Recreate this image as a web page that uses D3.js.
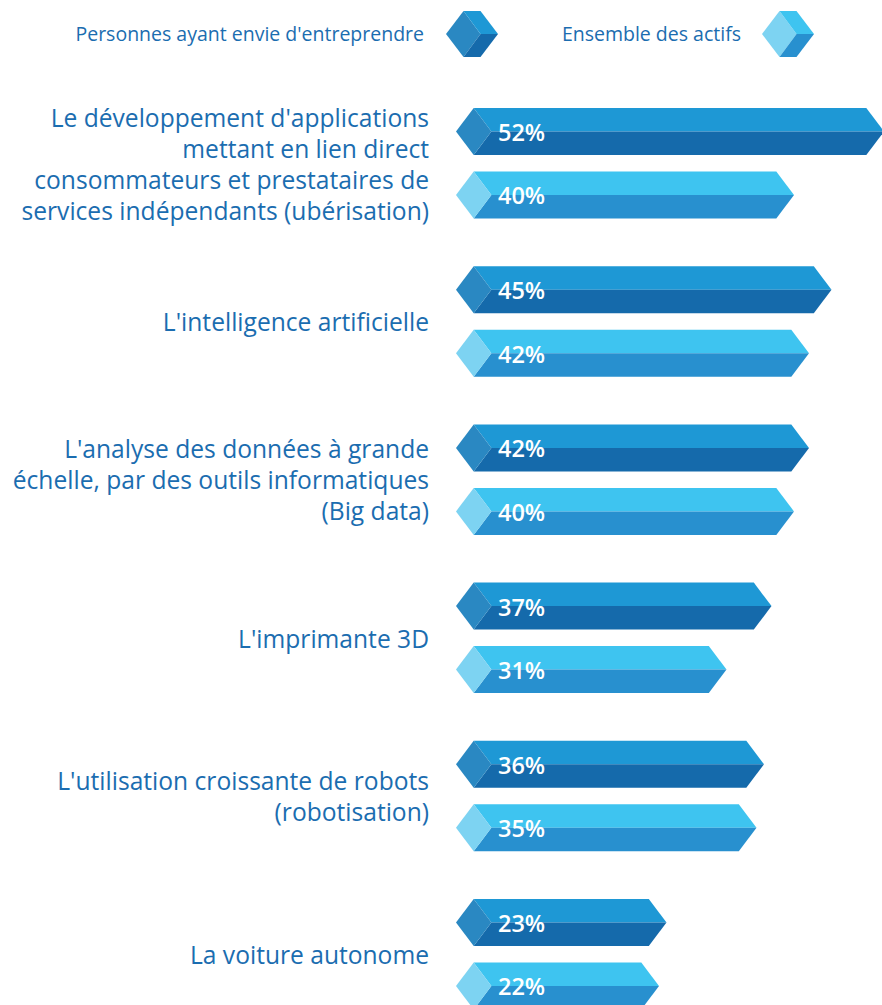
<!DOCTYPE html>
<html>
<head>
<meta charset="utf-8">
<script src="https://cdn.jsdelivr.net/npm/d3@7"></script>
<style>
  body { margin: 0; background: #fff; }
  text { font-family: "Open Sans", sans-serif; }
</style>
</head>
<body>
<div id="wrapper"></div>
<script>
const categories = [
  ["Le développement d'applications", "mettant en lien direct", "consommateurs et prestataires de", "services indépendants (ubérisation)"],
  ["L'intelligence artificielle"],
  ["L'analyse des données à grande", "échelle, par des outils informatiques", "(Big data)"],
  ["L'imprimante 3D"],
  ["L'utilisation croissante de robots", "(robotisation)"],
  ["La voiture autonome"]
]
const seriesNames = ["Personnes ayant envie d'entreprendre", "Ensemble des actifs"]
const entrepreneurs = [52, 45, 42, 37, 36, 23]
const actifs = [40, 42, 40, 31, 35, 22]

const palettes = [
  { cap: "#2a88c2", top: "#1e98d5", bottom: "#156aab" },
  { cap: "#7dd3f2", top: "#3ec4f0", bottom: "#2890cf" }
]
const textColor = "#1b6db0"

const dimensions = { width: 882, height: 1005 }

const rows = categories.map((c, i) => ({
  key: i,
  lines: c,
  values: [entrepreneurs[i], actifs[i]]
}))

const svg = d3.select("#wrapper")
  .append("svg")
    .attr("width", dimensions.width)
    .attr("height", dimensions.height)

const yScale = d3.scaleBand()
  .domain(rows.map(d => d.key))
  .range([108, 108 + 6 * 158.2])

const ySub = d3.scaleBand()
  .domain([0, 1])
  .range([0, 110.5])
  .paddingInner(0.26)

const xScale = d3.scaleLinear()
  .domain([0, 52])
  .range([494, 884])

const capLeft = 456
const cap = 17.7

const groups = svg.selectAll(".row")
  .data(rows)
  .enter().append("g")
    .attr("class", "row")
    .attr("transform", d => `translate(0, ${yScale(d.key)})`)

const bars = groups.selectAll(".bar")
  .data(d => d.values.map((v, j) => ({ v, j })))
  .enter().append("g")
    .attr("class", "bar")
    .attr("transform", d => `translate(0, ${ySub(d.j)})`)

const h = ySub.bandwidth()
const mid = h / 2

bars.append("path")
  .attr("fill", d => palettes[d.j].top)
  .attr("d", d => {
    const xr = xScale(d.v)
    return `M${capLeft + cap},0 L${xr - cap},0 L${xr},${mid} L${capLeft + 2 * cap},${mid} Z`
  })

bars.append("path")
  .attr("fill", d => palettes[d.j].bottom)
  .attr("d", d => {
    const xr = xScale(d.v)
    return `M${capLeft + 2 * cap},${mid} L${xr},${mid} L${xr - cap},${h} L${capLeft + cap},${h} Z`
  })

bars.append("path")
  .attr("fill", d => palettes[d.j].cap)
  .attr("d", `M${capLeft},${mid} L${capLeft + cap},0 L${capLeft + 2 * cap},${mid} L${capLeft + cap},${h} Z`)

bars.append("text")
  .attr("x", 498)
  .attr("y", mid + 9.5)
  .attr("fill", "#fff")
  .attr("font-size", 23.5)
  .attr("font-weight", 600)
  .text(d => d.v + "%")

// category labels
const lineHeight = 31
groups.append("text")
  .attr("text-anchor", "end")
  .attr("fill", textColor)
  .attr("font-size", 24.6)
  .selectAll("tspan")
  .data(d => d.lines.map((l, k) => ({ l, k, n: d.lines.length })))
  .enter().append("tspan")
    .attr("x", 429)
    .attr("y", d => 56 + 9 + (d.k - (d.n - 1) / 2) * lineHeight)
    .text(d => d.l)

// legend
const legendItems = [
  { name: seriesNames[0], textEnd: 424, cubeX: 446, pal: palettes[0] },
  { name: seriesNames[1], textEnd: 741, cubeX: 762, pal: palettes[1] }
]

const legend = svg.append("g").attr("id", "legend")

legendItems.forEach(item => {
  const g = legend.append("g").attr("transform", `translate(${item.cubeX}, 11)`)
  const w = 52, hh = 46, s = 17.5
  g.append("path").attr("fill", item.pal.cap)
    .attr("d", `M0,${hh / 2} L${s},0 L${w - s},${hh / 2} L${s},${hh} Z`)
  g.append("path").attr("fill", item.pal.top)
    .attr("d", `M${s},0 L${w - s},0 L${w},${hh / 2} L${w - s},${hh / 2} Z`)
  g.append("path").attr("fill", item.pal.bottom)
    .attr("d", `M${w - s},${hh / 2} L${w},${hh / 2} L${w - s},${hh} L${s},${hh} Z`)
  legend.append("text")
    .attr("x", item.textEnd)
    .attr("y", 41)
    .attr("text-anchor", "end")
    .attr("fill", textColor)
    .attr("font-size", 19.5)
    .text(item.name)
})
</script>
</body>
</html>
